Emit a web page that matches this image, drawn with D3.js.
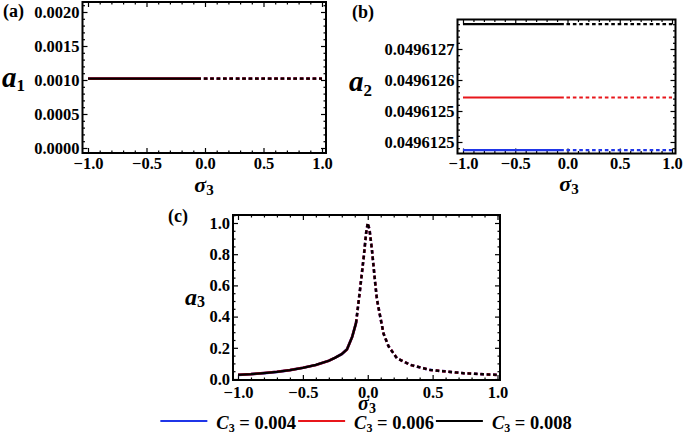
<!DOCTYPE html>
<html><head><meta charset="utf-8">
<script src="https://cdn.jsdelivr.net/npm/d3@7"></script>
<style>
body{margin:0;background:#fff}
svg{display:block}
text{font-family:"Liberation Serif","Times New Roman",serif;font-weight:bold;fill:#000}
</style>
</head><body>
<svg id="chart" width="685" height="448"></svg>
<script>
// ---------- data ----------
const sigmaTicks = [-1.0, -0.5, 0.0, 0.5, 1.0];
const sigmaTickLabels = ["\u22121.0", "\u22120.5", "0.0", "0.5", "1.0"];
const c3Labels = ["0.004", "0.006", "0.008"];
const seriesColors = ["#1f35e8", "#e8161b", "#000000"];

const a1TickValues = [0, 0.0005, 0.0010, 0.0015, 0.0020];
const a1TickLabels = ["0.0000", "0.0005", "0.0010", "0.0015", "0.0020"];
const a2TickValues = [0.0496124, 0.0496125, 0.0496126, 0.0496127];
const a2TickLabels = ["0.0496125", "0.0496125", "0.0496126", "0.0496127"];
const a3TickValues = [0, 0.2, 0.4, 0.6, 0.8, 1.0];
const a3TickLabels = ["0.0", "0.2", "0.4", "0.6", "0.8", "1.0"];

// panels (a), (b): stable (solid) and unstable (dashed) sigma ranges
const sigmaStable = [-1.0, -0.035];
const sigmaUnstable = [-0.01, 1.0];
const a1Values = [0.00102, 0.00102, 0.00102];               // C3 = 0.004, 0.006, 0.008
const a2Values = [0.049612374, 0.0496125435, 0.04961278];   // C3 = 0.004, 0.006, 0.008

// panel (c): same curve for all three C3 values (they overlap)
const a3StableSigma  = [-1.0, -0.9, -0.8, -0.7, -0.6, -0.5, -0.4, -0.3, -0.25, -0.2, -0.16, -0.12, -0.09];
const a3StableValues = [0.027, 0.031, 0.038, 0.046, 0.057, 0.072, 0.09, 0.117, 0.137, 0.16, 0.19, 0.27, 0.36];
const a3UnstableSigma  = [-0.09, -0.06, -0.03, -0.012, 0.0, 0.014, 0.032, 0.045, 0.058, 0.071, 0.096, 0.122, 0.16, 0.225, 0.33, 0.48, 0.74, 1.0];
const a3UnstableValues = [0.36, 0.57, 0.79, 0.94, 1.0, 0.955, 0.83, 0.72, 0.61, 0.51, 0.40, 0.29, 0.21, 0.133, 0.09, 0.058, 0.037, 0.026];

// ---------- drawing ----------
const svg = d3.select("#chart");
const FS = 16.5;

function minorTicks(scale, lo, hi, t0, major, n) {
  const a = Math.min(scale.invert(lo), scale.invert(hi));
  const b = Math.max(scale.invert(lo), scale.invert(hi));
  const st = major / n, out = [];
  const k0 = Math.ceil((a - t0) / st - 1e-9), k1 = Math.floor((b - t0) / st + 1e-9);
  for (let k = k0; k <= k1; k++) if (((k % n) + n) % n !== 0) out.push(t0 + k * st);
  return out;
}

function styleAxis(g) {
  g.select(".domain").remove();
  g.selectAll(".tick line").attr("stroke", "#000").attr("stroke-width", 1.2);
  g.selectAll("text").attr("font-family", null).attr("font-size", FS).attr("fill", "#000");
  g.attr("font-family", null).attr("font-size", null);
}

function panel(cfg) {
  const [L, R, T, B] = cfg.frame;
  const x = d3.scaleLinear().domain([-1, 1]).range(cfg.xr);
  const y = d3.scaleLinear().domain(cfg.yd).range(cfg.yr);
  const g = svg.append("g");
  const clipId = "clip" + cfg.id;
  g.append("clipPath").attr("id", clipId).append("rect")
    .attr("x", L).attr("y", T).attr("width", R - L).attr("height", B - T);

  const xMinor = minorTicks(x, L, R, -1, 0.5, 5);
  const yMinor = minorTicks(y, B, T, cfg.yt[0], cfg.yt[1] - cfg.yt[0], cfg.yn);
  const MJ = 5, MN = 2.5;

  g.append("g").attr("transform", `translate(0,${B})`)
    .call(d3.axisBottom(x).tickValues(sigmaTicks).tickFormat((d, i) => sigmaTickLabels[i]).tickSize(-MJ).tickPadding(cfg.xpad)).call(styleAxis);
  g.append("g").attr("transform", `translate(0,${B})`)
    .call(d3.axisBottom(x).tickValues(xMinor).tickFormat("").tickSize(-MN)).call(styleAxis);
  g.append("g").attr("transform", `translate(0,${T})`)
    .call(d3.axisTop(x).tickValues(sigmaTicks).tickFormat("").tickSize(-MJ)).call(styleAxis);
  g.append("g").attr("transform", `translate(0,${T})`)
    .call(d3.axisTop(x).tickValues(xMinor).tickFormat("").tickSize(-MN)).call(styleAxis);
  g.append("g").attr("transform", `translate(${L},0)`)
    .call(d3.axisLeft(y).tickValues(cfg.yt).tickFormat((d, i) => cfg.yl[i]).tickSize(-MJ).tickPadding(3)).call(styleAxis);
  g.append("g").attr("transform", `translate(${L},0)`)
    .call(d3.axisLeft(y).tickValues(yMinor).tickFormat("").tickSize(-MN)).call(styleAxis);
  g.append("g").attr("transform", `translate(${R},0)`)
    .call(d3.axisRight(y).tickValues(cfg.yt).tickFormat("").tickSize(-MJ)).call(styleAxis);
  g.append("g").attr("transform", `translate(${R},0)`)
    .call(d3.axisRight(y).tickValues(yMinor).tickFormat("").tickSize(-MN)).call(styleAxis);

  const line = d3.line().x(d => x(d[0])).y(d => y(d[1]));
  const lg = g.append("g").attr("clip-path", `url(#${clipId})`);
  cfg.series.forEach((s, i) => {
    const w = cfg.overlap ? [2.7, 2.6, 2.3][i] : 2.2;
    lg.append("path").attr("d", line(s.solid)).attr("fill", "none")
      .attr("stroke", seriesColors[i]).attr("stroke-width", w);
    lg.append("path").attr("d", line(s.dashed)).attr("fill", "none")
      .attr("stroke", seriesColors[i]).attr("stroke-width", w).attr("stroke-dasharray", "3.6,2.8");
  });

  g.append("rect").attr("x", L).attr("y", T).attr("width", R - L).attr("height", B - T)
    .attr("fill", "none").attr("stroke", "#000").attr("stroke-width", 2);

  // panel tag
  g.append("text").attr("x", cfg.tag[0]).attr("y", cfg.tag[1]).attr("font-size", 18).text(cfg.tagText);
  // y label
  const yl = g.append("text").attr("x", cfg.ylab[0]).attr("y", cfg.ylab[1]);
  yl.append("tspan").attr("font-style", "italic").attr("font-size", cfg.ylab[2]).text("a");
  yl.append("tspan").attr("font-size", cfg.ylab[3]).attr("dy", cfg.ylab[4]).text(cfg.ysub);
  // x label
  const xl = g.append("text").attr("x", cfg.xlab[0]).attr("y", cfg.xlab[1]).attr("text-anchor", "middle");
  xl.append("tspan").attr("font-style", "italic").attr("font-size", cfg.xlab[2]).text("\u03C3");
  xl.append("tspan").attr("font-size", cfg.xlab[3]).attr("dy", 2.5).text("3");
}

const flatSeries = (vals) => vals.map(v => ({
  solid: sigmaStable.map(s => [s, v]),
  dashed: sigmaUnstable.map(s => [s, v])
}));
const a3Series = c3Labels.map(() => ({
  solid: a3StableSigma.map((s, j) => [s, a3StableValues[j]]),
  dashed: a3UnstableSigma.map((s, j) => [s, a3UnstableValues[j]])
}));

panel({ id: "a", frame: [82.5, 326, 2, 153], xr: [88, 322], yd: [0, 0.002], yr: [148, 12],
  yt: a1TickValues, yl: a1TickLabels, yn: 5, series: flatSeries(a1Values), overlap: true, xpad: 4,
  tag: [3, 17], tagText: "(a)", ylab: [2, 86.5, 29, 17, 4], ysub: "1", xlab: [204, 192, 22, 15] });

panel({ id: "b", frame: [457.5, 675.5, 19.5, 153.5], xr: [463, 672], yd: [0.0496124, 0.0496127], yr: [142, 49],
  yt: a2TickValues, yl: a2TickLabels, yn: 5, series: flatSeries(a2Values), overlap: false, xpad: 4,
  tag: [352, 18], tagText: "(b)", ylab: [349, 91, 29, 17, 5], ysub: "2", xlab: [569, 191, 22, 15] });

panel({ id: "c", frame: [233, 500, 215, 380], xr: [238, 497.5], yd: [0, 1], yr: [379, 223],
  yt: a3TickValues, yl: a3TickLabels, yn: 4, series: a3Series, overlap: true, xpad: 6,
  tag: [168, 222], tagText: "(c)", ylab: [185, 305, 24, 16, 2], ysub: "3", xlab: [367, 410, 20, 14] });

// ---------- legend ----------
const leg = svg.append("g");
let cx = 0;
c3Labels.forEach((lab, i) => {
  const it = leg.append("g");
  it.append("line").attr("x1", cx).attr("x2", cx + 47).attr("y1", 421).attr("y2", 421)
    .attr("stroke", seriesColors[i]).attr("stroke-width", 2);
  cx += 56;
  const t = it.append("text").attr("x", cx).attr("y", 429).attr("font-size", 18.5);
  t.append("tspan").attr("font-style", "italic").text("C");
  t.append("tspan").attr("font-size", 12).attr("dy", 3).text("3");
  t.append("tspan").attr("dy", -3).text(" = " + lab);
  cx += t.node().getComputedTextLength() + 2;
});
leg.attr("transform", `translate(${367 - cx / 2},0)`);
</script>
</body></html>
